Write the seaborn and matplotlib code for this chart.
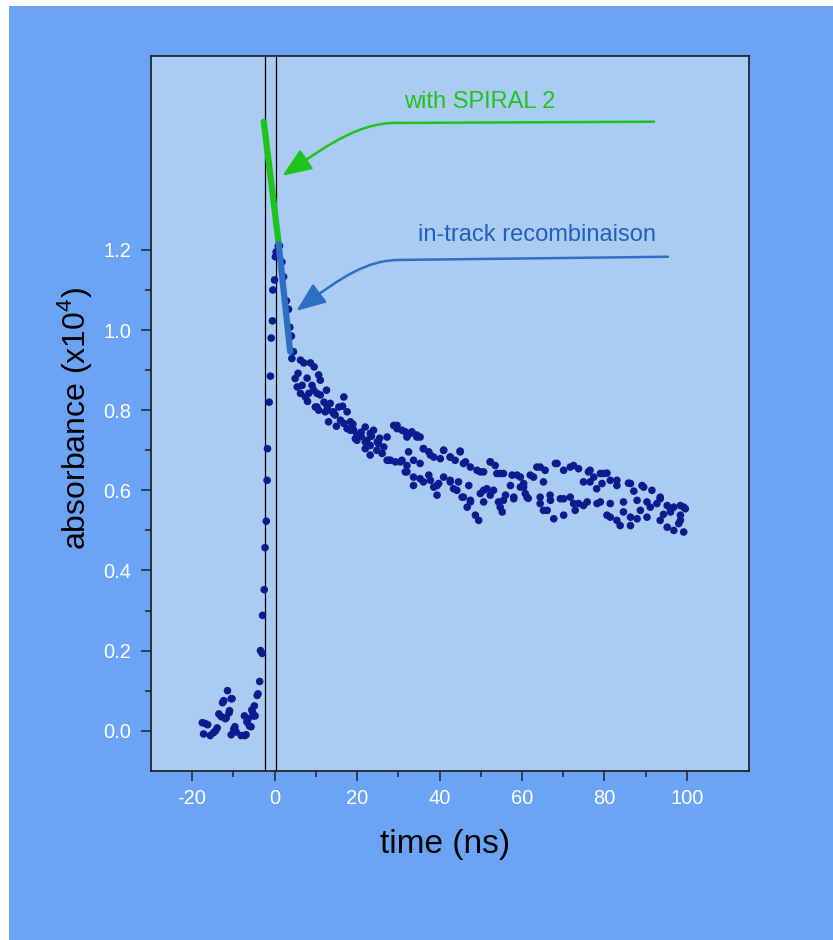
import numpy as np
import pandas as pd
import matplotlib
matplotlib.use("Agg")
import matplotlib.pyplot as plt
import seaborn as sns
from matplotlib.patches import Rectangle, FancyArrowPatch
from matplotlib.path import Path

# ---------------- data ----------------
# baseline + rise around t = 0
rise_t = [-17.2, -16.8, -17.5, -16.2, -15.6, -14.8, -14.3, -13.9, -13.5, -12.9,
          -12.6, -12.3, -11.9, -11.7, -11.4, -11.0, -10.9, -10.5, -10.3, -10.5,
          -9.9, -9.6, -9.3, -8.1, -7.2, -7.3, -6.9, -6.7, -6.4, -6.1,
          -5.7, -5.5, -5.3, -5.1, -4.9, -4.7, -4.2, -4.0, -3.6, -3.4,
          -3.0, -2.9, -2.5, -2.3, -2.0, -1.8, -1.7, -1.3, -1.0, -0.8,
          -0.5, -0.4, 0.0, 0.2, 0.4, 0.9, 1.2]
rise_a = [-0.008, 0.018, 0.020, 0.015, -0.012, -0.005, 0.000, 0.007, 0.042, 0.035,
          0.070, 0.075, 0.030, 0.033, 0.100, 0.045, 0.050, 0.080, 0.080, -0.010,
          0.004, 0.010, -0.003, -0.012, -0.012, 0.037, -0.010, 0.022, 0.030, 0.012,
          0.010, 0.052, 0.045, 0.037, 0.062, 0.037, 0.088, 0.092, 0.123, 0.200,
          0.193, 0.288, 0.352, 0.457, 0.523, 0.625, 0.704, 0.820, 0.885, 0.980,
          1.023, 1.100, 1.125, 1.183, 1.195, 1.210, 1.210]

# fast decay (t < 28 ns)
early_t = [1.8, 2.2, 2.9, 3.4, 3.7, 4.1, 4.6, 4.2, 5.0, 5.5,
           5.7, 6.3, 6.3, 6.7, 7.1, 7.5, 7.9, 8.0, 8.3, 8.7,
           9.1, 9.5, 9.6, 9.9, 10.3, 10.3, 10.7, 10.7, 11.1, 11.1,
           12.0, 12.3, 12.6, 12.7, 13.0, 13.1, 13.5, 14.3, 14.3, 14.7,
           15.0, 15.6, 16.0, 16.5, 16.8, 16.8, 17.6, 17.6, 18.4, 18.4,
           19.0, 19.2, 19.6, 20.0, 20.0, 21.0, 21.0, 22.0, 22.0, 22.0,
           22.4, 23.2, 23.2, 23.2, 23.5, 24.0, 24.8, 24.9, 25.2, 25.5,
           26.1, 26.5, 27.3, 27.7]
early_a = [1.170, 1.133, 1.073, 1.052, 1.007, 0.985, 0.946, 0.929, 0.879, 0.858,
           0.892, 0.925, 0.842, 0.862, 0.918, 0.833, 0.880, 0.822, 0.842, 0.918,
           0.862, 0.850, 0.908, 0.808, 0.842, 0.808, 0.888, 0.800, 0.875, 0.838,
           0.820, 0.796, 0.850, 0.812, 0.800, 0.771, 0.817, 0.796, 0.792, 0.788,
           0.760, 0.808, 0.775, 0.810, 0.833, 0.767, 0.796, 0.754, 0.771, 0.750,
           0.765, 0.750, 0.729, 0.725, 0.738, 0.735, 0.745, 0.758, 0.721, 0.704,
           0.725, 0.712, 0.688, 0.742, 0.735, 0.750, 0.700, 0.721, 0.717, 0.730,
           0.692, 0.708, 0.733, 0.675]

# slow decay, upper band
upper_t = [28.9, 29.7, 29.7, 30.9, 31.7, 32.1, 32.9, 33.3, 34.5, 34.5,
           35.3, 36.1, 36.1, 37.4, 37.8, 38.6, 40.2, 41.0, 41.0, 42.6,
           42.6, 43.8, 45.0, 45.0, 45.8, 46.3, 47.5, 49.1, 49.9, 50.7,
           52.3, 52.3, 53.5, 53.9, 54.7, 55.5, 57.6, 58.8, 59.6, 60.4,
           62.0, 62.8, 63.6, 64.4, 65.2, 65.6, 68.1, 68.5, 70.1, 71.7,
           72.5, 73.7, 74.9, 76.1, 76.5, 76.5, 77.4, 78.1, 79.0, 79.4,
           79.8, 80.6, 81.4, 83.0, 83.0, 85.8, 86.3, 87.1, 89.1, 89.5,
           91.5, 93.5, 93.5, 95.2, 96.8, 98.4, 99.2, 99.6]
upper_a = [0.762, 0.754, 0.762, 0.750, 0.746, 0.733, 0.742, 0.746, 0.738, 0.733,
           0.733, 0.704, 0.704, 0.696, 0.688, 0.683, 0.679, 0.700, 0.700, 0.683,
           0.683, 0.675, 0.698, 0.696, 0.667, 0.671, 0.658, 0.650, 0.646, 0.646,
           0.671, 0.671, 0.662, 0.642, 0.642, 0.642, 0.638, 0.638, 0.633, 0.617,
           0.638, 0.633, 0.658, 0.658, 0.621, 0.650, 0.667, 0.667, 0.650, 0.658,
           0.662, 0.654, 0.621, 0.646, 0.621, 0.650, 0.633, 0.604, 0.642, 0.617,
           0.642, 0.643, 0.625, 0.612, 0.625, 0.618, 0.617, 0.598, 0.612, 0.608,
           0.600, 0.579, 0.583, 0.562, 0.558, 0.562, 0.558, 0.554]

# slow decay, lower band
lower_t = [27.3, 28.1, 29.3, 30.5, 30.9, 31.7, 32.1, 32.1, 32.5, 33.7,
           33.7, 33.7, 35.3, 35.3, 36.1, 37.4, 37.8, 38.6, 39.4, 39.4,
           39.8, 41.0, 42.6, 42.6, 43.4, 44.2, 44.6, 45.5, 45.8, 46.7,
           47.1, 47.5, 47.5, 48.7, 49.5, 49.9, 50.7, 50.7, 51.5, 52.3,
           53.1, 54.3, 54.7, 55.2, 55.5, 56.0, 57.2, 58.0, 58.0, 59.6,
           60.4, 60.8, 61.2, 61.5, 64.4, 64.4, 65.2, 66.1, 66.8, 66.9,
           67.7, 69.3, 70.1, 70.1, 71.7, 72.5, 72.9, 73.7, 74.9, 75.8,
           78.2, 79.0, 80.6, 81.4, 81.4, 83.0, 83.8, 84.6, 84.6, 86.3,
           86.3, 87.9, 87.9, 88.7, 90.3, 90.3, 91.1, 92.7, 93.5, 94.3,
           95.2, 96.0, 96.0, 96.8, 98.0, 98.4, 98.4, 99.2]
lower_a = [0.675, 0.675, 0.671, 0.671, 0.675, 0.646, 0.662, 0.646, 0.696, 0.675,
           0.633, 0.612, 0.667, 0.629, 0.621, 0.638, 0.625, 0.608, 0.612, 0.588,
           0.617, 0.633, 0.625, 0.621, 0.604, 0.600, 0.621, 0.583, 0.583, 0.558,
           0.612, 0.571, 0.575, 0.538, 0.525, 0.592, 0.571, 0.600, 0.604, 0.588,
           0.600, 0.571, 0.558, 0.546, 0.575, 0.588, 0.612, 0.579, 0.583, 0.608,
           0.608, 0.592, 0.583, 0.580, 0.583, 0.567, 0.550, 0.550, 0.588, 0.575,
           0.529, 0.579, 0.538, 0.579, 0.583, 0.567, 0.550, 0.567, 0.562, 0.571,
           0.567, 0.571, 0.538, 0.567, 0.533, 0.525, 0.512, 0.571, 0.546, 0.512,
           0.533, 0.575, 0.529, 0.550, 0.571, 0.533, 0.558, 0.567, 0.525, 0.540,
           0.508, 0.550, 0.546, 0.500, 0.517, 0.538, 0.525, 0.496]

# fitted lines
fit_green_t = [-2.6, 1.0]
fit_green_a = [1.52, 1.217]
fit_blue_t = [1.0, 3.8]
fit_blue_a = [1.215, 0.946]

# vertical markers (ns)
marker_t = [-2.4, 0.45]

# annotations
label_green = "with SPIRAL 2"
label_blue = "in-track recombinaison"

y_major = [0.0, 0.2, 0.4, 0.6, 0.8, 1.0, 1.2]
y_minor = [0.1, 0.3, 0.5, 0.7, 0.9, 1.1]
x_major = [-20, 0, 20, 40, 60, 80, 100]
x_minor = [-10, 10, 30, 50, 70, 90]

# ---------------- style ----------------
sns.set_style("ticks")
plt.rcParams["font.family"] = ["Liberation Sans", "DejaVu Sans"]
plt.rcParams["axes.unicode_minus"] = False
plt.rcParams["mathtext.fontset"] = "custom"
plt.rcParams["mathtext.rm"] = "Liberation Sans"

OUTER = "#6ca4f5"
INNER = "#aacbf2"
DOT = "#0c1b8e"
GREEN = "#1ec41e"
BLUE_TXT = "#1f5fc0"
BLUE_LN = "#2e6ec4"

fig = plt.figure(figsize=(8.33, 9.40), dpi=100, facecolor="white")
fig.patches.append(Rectangle((9 / 833, 0), 1, (940 - 6) / 940, transform=fig.transFigure,
                             facecolor=OUTER, edgecolor="none", zorder=-10))
ax = fig.add_axes([0.181, 0.180, 0.718, 0.760])
ax.set_facecolor(INNER)

df = pd.DataFrame({
    "time": rise_t + early_t + upper_t + lower_t,
    "absorbance": rise_a + early_a + upper_a + lower_a,
})
sns.scatterplot(data=df, x="time", y="absorbance", ax=ax, color=DOT, s=30,
                edgecolor="none", linewidth=0, zorder=3)

for t in marker_t:
    ax.axvline(t, color="black", lw=0.9, zorder=2)

sns.lineplot(x=fit_green_t, y=fit_green_a, ax=ax, color=GREEN, lw=4.5, sort=False, zorder=5)
sns.lineplot(x=fit_blue_t, y=fit_blue_a, ax=ax, color=BLUE_LN, lw=4.5, sort=False, zorder=5)

# curved arrows
def curved_arrow(start, flat_end, c1, c2, tip, color):
    verts = [start, flat_end, c1, c2, tip]
    codes = [Path.MOVETO, Path.LINETO, Path.CURVE4, Path.CURVE4, Path.CURVE4]
    arr = FancyArrowPatch(path=Path(verts, codes),
                          arrowstyle="-|>,head_length=0.9,head_width=0.36",
                          mutation_scale=20, color=color, lw=1.8, zorder=6)
    ax.add_patch(arr)

curved_arrow((92.0, 1.52), (30.5, 1.517), (21.0, 1.52), (14.0, 1.47), (1.9, 1.385), GREEN)
curved_arrow((95.4, 1.183), (30.5, 1.175), (22.5, 1.175), (16.5, 1.135), (5.3, 1.048), BLUE_LN)

ax.text(49.8, 1.568, label_green, color=GREEN, fontsize=17, ha="center", va="center")
ax.text(63.7, 1.238, label_blue, color=BLUE_TXT, fontsize=17, ha="center", va="center")

ax.set_xlim(-30, 115)
ax.set_ylim(-0.1, 1.683)
ax.set_xticks(x_major)
ax.set_xticks(x_minor, minor=True)
ax.set_yticks(y_major)
ax.set_yticks(y_minor, minor=True)
ax.set_xticklabels([str(v) for v in x_major])
ax.set_yticklabels([f"{v:.1f}" for v in y_major])
ax.tick_params(axis="both", which="major", direction="out", length=7, width=1.1,
               color="#222222", labelcolor="white", labelsize=14.5)
ax.tick_params(axis="both", which="minor", direction="out", length=4, width=1.1,
               color="#222222")
ax.tick_params(axis="x", which="major", pad=6)
ax.tick_params(axis="y", which="major", pad=7)
for sp in ax.spines.values():
    sp.set_visible(True)
    sp.set_color("#1a1a1a")
    sp.set_linewidth(1.2)
ax.set_xlabel("")
ax.set_ylabel("")

fig.text(445 / 833, 1 - 845 / 940, "time (ns)", fontsize=24, ha="center", va="center", color="black")
fig.text(75 / 833, 1 - 419 / 940, r"absorbance (x10$^{4}$)", fontsize=23, rotation=90,
         ha="center", va="center", color="black")

fig.savefig("out.png", dpi=100, facecolor=fig.get_facecolor())
